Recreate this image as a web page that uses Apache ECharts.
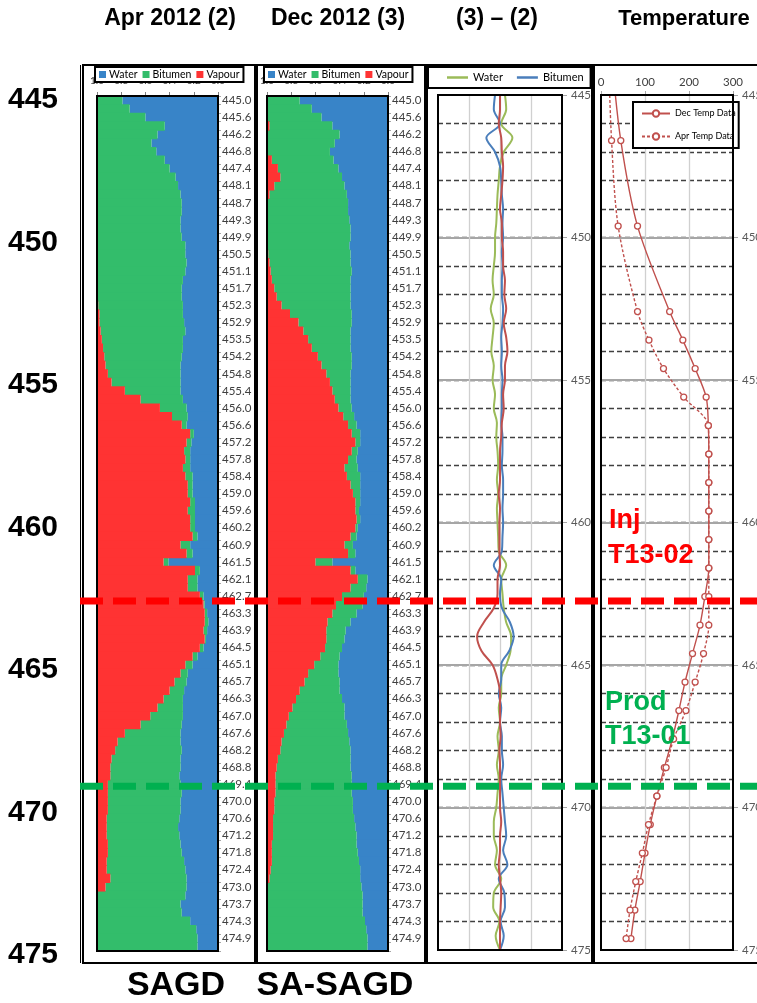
<!DOCTYPE html>
<html>
<head>
<meta charset="utf-8">
<script src="https://cdn.jsdelivr.net/npm/echarts@6/dist/echarts.min.js"></script>
<style>
  html, body { margin: 0; padding: 0; background: #ffffff; }
  #chart { width: 757px; height: 1003px; }
</style>
</head>
<body>
<div id="chart"></div>
<script>
// ---- depth rows of the saturation logs (labelled every second row) ----
const depthLabels = ['445.0','445.6','446.2','446.8','447.4','448.1','448.7','449.3','449.9','450.5',
  '451.1','451.7','452.3','452.9','453.5','454.2','454.8','455.4','456.0','456.6',
  '457.2','457.8','458.4','459.0','459.6','460.2','460.9','461.5','462.1','462.7',
  '463.3','463.9','464.5','465.1','465.7','466.3','467.0','467.6','468.2','468.8',
  '469.4','470.0','470.6','471.2','471.8','472.4','473.0','473.7','474.3','474.9'];

// ---- Apr 2012 saturations (%), top to bottom ----
const aprWater = [79,73,60,44,50,55,51,44,40,35, 33,31,30,30,31,31,30,27,27,26,
  27,29,30,30,29,29,28,27,29,29, 30,31,31,31,31,29,26,25,26,
  20,22,23,23,23,21,21,21,19,19,19,19,17,23,21,
  41,15,17,17,12,11,9,8,9,10, 12,17,21,25,26,28,29,29,29,30,
  31,31,30,31,31,32,31,30,31,31, 32,33,32,31,30,28,27,26,26, 27,31,30,23,18,17,17];
const aprBitumen = [21,27,40,56,50,45,49,56,60,65, 67,69,70,70,69,69,70,73,73,74,
  73,71,70,70,70,69,70,70,67,66, 64,62,60,57,46,35,22,13,4,
  3,4,5,4,6,6,4,4,4,6,4,4,4,8,5,
  4,4,8,8,3,1,2,3,3,1, 3,4,6,6,10,12,16,21,27,34,
  46,52,55,57,58,57,60,61,60,60, 60,59,60,60,61,64,65,63,67, 73,69,70,77,82,83,83];
const aprVapour = [0,0,0,0,0,0,0,0,0,0, 0,0,0,0,0,0,0,0,0,0,
  0,0,0,0,1,2,2,3,4,5, 6,7,9,12,23,36,52,62,70,
  77,74,72,73,71,73,75,75,77,75,77,77,79,69,74,
  55,81,75,75,85,88,89,89,88,89, 85,79,73,69,64,60,55,50,44,36,
  23,17,15,12,11,11,9,9,9,9, 8,8,8,9,9,8,8,11,7, 0,0,0,0,0,0,0];

// ---- Dec 2012 saturations (%), top to bottom ----
const decWater = [73,63,55,46,40,44,48,45,41,38, 36,34,33,33,32,31,31,32,31,31,
  30,31,31,31,31,30,30,31,31,31, 30,30,31,31,31,31,30,28,26,23,
  23,25,26,25,23,23,23,23,24,23, 25,26,29,27,46,27,17,18,20,21,
  26,31,35,36,38,40,41,41,40,40, 38,36,36,34,33,32,31,31,31,30,
  30,30,29,29,28,27,26,26,25,24, 23,23,22,21,21,21,19,18,17,17];
const decBitumen = [27,37,45,52,60,56,52,51,50,51, 58,64,67,67,68,69,69,68,68,67,
  67,65,63,61,57,51,44,39,35,32, 28,25,20,17,15,13,11,9,7,7,
  4,5,7,11,11,8,6,4,3,3, 2,5,7,6,14,4,8,13,18,22,
  20,19,16,15,14,16,20,25,29,33, 38,43,46,50,53,56,58,60,61,63,
  63,63,65,65,67,68,69,70,71,72, 74,75,78,79,79,79,81,82,83,83];
const decVapour = [0,0,0,2,0,0,0,4,9,11, 6,2,0,0,0,0,0,0,1,2,
  3,4,6,8,12,19,26,30,34,37, 42,45,49,52,54,56,59,63,67,70,
  73,70,67,64,66,69,71,73,73,74, 73,69,64,67,40,69,75,69,62,57,
  54,50,49,49,48,44,39,34,31,27, 24,21,18,16,14,12,11,9,8,7,
  7,7,6,6,5,5,5,4,4,4, 3,2,0,0,0,0,0,0,0,0];

// ---- saturation change (Dec - Apr), fraction ----
const diffDepths = [445,445.5,446,446.5,447,447.5,448,448.5,449,449.5,450,450.5,451,451.5,452,452.5,
  453,453.5,454,454.5,455,455.5,456,456.5,457,457.5,458,458.5,459,459.5,460,460.5,461,461.5,
  462,462.5,463,463.5,464,464.5,465,465.5,466,466.5,467,467.5,468,468.5,469,469.5,470,470.5,
  471,471.5,472,472.5,473,473.5,474,474.5,475];
const diffWater = [0.08,0.10,0.02,0.20,0.06,0.00,-0.02,-0.04,-0.05,-0.06,-0.08,-0.08,-0.10,-0.12,-0.10,-0.15,
  -0.10,-0.12,-0.14,-0.10,-0.12,-0.08,-0.10,-0.05,-0.06,-0.04,-0.03,-0.05,-0.03,-0.05,-0.04,-0.03,-0.02,0.10,
  0.02,0.04,0.06,0.10,0.18,0.17,0.10,0.02,0.02,-0.02,0.00,-0.04,-0.02,-0.05,-0.02,-0.04,-0.06,-0.10,
  -0.10,-0.05,-0.08,0.02,-0.10,-0.11,-0.01,-0.07,0.00];
const diffBitumen = [-0.08,-0.10,0.00,-0.22,-0.08,0.00,0.02,0.03,0.05,0.04,0.05,0.03,0.04,0.03,0.03,0.05,
  0.04,0.02,0.03,0.02,0.04,0.03,0.03,0.02,0.04,0.04,0.03,0.05,0.05,0.04,0.05,0.04,0.03,-0.10,
  0.02,0.00,0.03,0.16,0.22,0.15,0.02,0.02,-0.02,0.02,0.00,0.03,0.03,0.05,0.02,0.04,0.06,0.08,
  0.10,0.05,0.12,-0.02,0.07,0.08,0.01,0.06,0.00];
const diffVapour = [0.00,0.00,-0.02,0.02,0.03,0.05,0.04,0.02,0.00,0.03,0.03,0.05,0.05,0.08,0.07,0.10,
  0.06,0.10,0.12,0.08,0.08,0.05,0.06,0.03,0.02,0.00,0.00,0.00,-0.02,0.00,-0.01,-0.01,-0.01,0.00,
  -0.04,-0.04,-0.10,-0.26,-0.37,-0.30,-0.12,-0.04,0.00,0.00,0.00,0.01,-0.01,0.00,0.00,0.00,0.00,0.02,
  0.00,0.00,-0.02,0.00,0.02,0.01,0.00,0.00,0.00];

// ---- observation-well temperatures (deg C) ----
const tempDepths = [443.6,446.6,449.6,452.6,453.6,454.6,455.6,456.6,457.6,458.6,459.6,460.6,461.6,
  462.6,463.6,464.6,465.6,466.6,467.6,468.6,469.6,470.6,471.6,472.6,473.6,474.6];
const decTemp = [24,45,83,156,186,214,239,244,245,245,245,245,245,236,225,208,191,177,162,144,127,112,100,89,77,68];
const aprTemp = [17,24,39,83,109,142,188,244,245,245,245,245,245,245,245,233,214,193,165,148,127,108,94,79,66,57];

// ---- well completion depths ----
const injDepth = 462.75;
const prodDepth = 469.25;

const C = {
  water: '#3884C8', bitumen: '#33BD6B', vapour: '#FF3333',
  dWater: '#9BBB59', dBitumen: '#4A7EBB', dVapour: '#C0504D', temp: '#C0504D',
  inj: '#FF0000', prod: '#00B050'
};
const SANS = 'Lato, "Liberation Sans", Arial, sans-serif';
const BOLD = '"Liberation Sans", Arial, sans-serif';

// two rows per labelled depth; only the labelled rows show text
const rowCategories = [];
depthLabels.forEach(d => { rowCategories.push(d); rowCategories.push(d + ' '); });

const chart = echarts.init(document.getElementById('chart'), null, { renderer: 'canvas' });

const grids = [
  { left: 97, top: 96, width: 121, height: 855 },
  { left: 267, top: 96, width: 121, height: 855 },
  { left: 438, top: 95, width: 124, height: 855 },
  { left: 601, top: 95, width: 132, height: 855 },
  // carrier for the large depth scale on the far left
  { left: 438, top: 100, width: 124, height: 855 }
].map(g => Object.assign({ outerBoundsMode: 'none', containLabel: false, show: false }, g));

function fractionAxis(gridIndex) {
  return {
    gridIndex, type: 'value', min: 0, max: 100, interval: 20, inverse: true, position: 'top',
    axisLine: { show: false },
    axisTick: { show: true, length: 4, lineStyle: { color: '#7f7f7f' } },
    axisLabel: { fontFamily: SANS, fontSize: 10, color: '#404040', margin: 10,
      showMinLabel: true, showMaxLabel: true, formatter: v => (v / 100).toFixed(1) },
    splitLine: { show: false }
  };
}
function rowAxis(gridIndex) {
  return {
    gridIndex, type: 'category', data: rowCategories, inverse: true, position: 'right',
    axisLine: { show: false },
    axisTick: { show: true, interval: 0, length: 3, lineStyle: { color: '#a6a6a6' } },
    axisLabel: { interval: 1, fontFamily: SANS, fontSize: 11.5, color: '#404040', margin: 4 }
  };
}
function metreAxis(gridIndex) {
  return {
    gridIndex, type: 'value', min: 445, max: 475, interval: 1, inverse: true, position: 'right',
    axisLine: { show: false }, axisTick: { show: false }, axisLabel: { show: false },
    splitLine: { show: true, showMinLine: false, showMaxLine: false,
      lineStyle: { color: '#404040', width: 1.3, type: [5, 3] } }
  };
}
function fiveMetreAxis(gridIndex) {
  return {
    gridIndex, type: 'value', min: 445, max: 475, interval: 5, inverse: true, position: 'right',
    axisLine: { show: false },
    axisTick: { show: true, length: 5, lineStyle: { color: '#a6a6a6' } },
    axisLabel: { fontFamily: SANS, fontSize: 11.5, color: '#595959', margin: 9 },
    splitLine: { show: true, showMinLine: false, showMaxLine: false,
      lineStyle: { color: '#a6a6a6', width: 2 } }
  };
}

// stacked phase bars; slightly wider than a row so neighbouring rows close up
function phaseBars(idx, stack, water, bitumen, vapour) {
  const mk = (name, data, color) => ({
    type: 'bar', name, data, stack, xAxisIndex: idx, yAxisIndex: idx,
    barWidth: 9.4, silent: true,
    itemStyle: { color, borderWidth: 0 }
  });
  return [mk('Water', water, C.water), mk('Bitumen', bitumen, C.bitumen), mk('Vapour', vapour, C.vapour)];
}
function diffLine(name, values, color) {
  return {
    type: 'line', name, xAxisIndex: 2, yAxisIndex: 2, smooth: 0.35, symbol: 'none', silent: true,
    data: diffDepths.map((d, i) => [values[i], d]),
    lineStyle: { color, width: 2 }, itemStyle: { color }
  };
}
function tempLine(name, values, dash) {
  return {
    type: 'line', name, xAxisIndex: 3, yAxisIndex: 5, smooth: 0.3, silent: true,
    symbol: 'circle', symbolSize: 6, showSymbol: true, clip: true,
    data: tempDepths.map((d, i) => [values[i], d]),
    lineStyle: { color: C.temp, width: 1.4, type: dash },
    itemStyle: { color: '#ffffff', borderColor: C.temp, borderWidth: 1.3 }
  };
}

const phaseLegend = left => ({
  left, top: 67, orient: 'horizontal', data: ['Water', 'Bitumen', 'Vapour'], icon: 'rect',
  itemWidth: 7, itemHeight: 7, itemGap: 5, padding: [2, 4, 2, 4], selectedMode: false,
  backgroundColor: '#ffffff', borderColor: '#000000', borderWidth: 2,
  textStyle: { fontFamily: SANS, fontSize: 10.5, color: '#000000', padding: [0, 0, 0, -2] }
});

const frame = (x, w) => ({ type: 'rect', z: 50, silent: true,
  shape: { x, y: 65, width: w, height: 898 }, style: { fill: 'none', stroke: '#000', lineWidth: 2 } });
const plotBox = g => ({ type: 'rect', z: 40, silent: true,
  shape: { x: g.left, y: g.top, width: g.width, height: g.height },
  style: { fill: 'none', stroke: '#000', lineWidth: 2 } });
const label = (text, x, y, size, color, align) => ({ type: 'text', z: 60, silent: true, x, y,
  style: { text, fill: color, font: `bold ${size}px ${BOLD}`, align: align || 'center', verticalAlign: 'middle' } });

const option = {
  backgroundColor: '#ffffff',
  animation: false,
  grid: grids,
  xAxis: [
    fractionAxis(0), fractionAxis(1),
    { gridIndex: 2, type: 'value', min: -1, max: 1, interval: 0.5,
      axisLine: { show: false }, axisTick: { show: false }, axisLabel: { show: false },
      splitLine: { show: true, showMinLine: false, showMaxLine: false, lineStyle: { color: '#d0d0d0', width: 1.3 } } },
    { gridIndex: 3, type: 'value', min: 0, max: 300, interval: 100, position: 'top',
      axisLine: { show: false },
      axisTick: { show: true, length: 4, lineStyle: { color: '#a6a6a6' } },
      axisLabel: { fontFamily: SANS, fontSize: 11.5, color: '#404040', margin: 7, showMinLabel: true, showMaxLabel: true, hideOverlap: false },
      splitLine: { show: true, showMinLine: false, showMaxLine: false, lineStyle: { color: '#d0d0d0', width: 1.3 } } },
    { gridIndex: 4, type: 'value', min: 0, max: 1, show: false }
  ],
  yAxis: [
    rowAxis(0), rowAxis(1),
    metreAxis(2), fiveMetreAxis(2),
    metreAxis(3), fiveMetreAxis(3),
    { gridIndex: 4, type: 'value', min: 445, max: 475, interval: 5, inverse: true, position: 'left', offset: 380,
      axisLine: { show: false }, axisTick: { show: false }, splitLine: { show: false },
      axisLabel: { fontFamily: BOLD, fontWeight: 'bold', fontSize: 30, color: '#000', margin: 0 } }
  ],
  legend: [
    phaseLegend(95), phaseLegend(264),
    { left: 428, top: 67, selectedMode: false,
      data: [{ name: 'dWater', icon: 'rect' }, { name: 'dBitumen', icon: 'rect' }],
      formatter: n => (n === 'dWater' ? 'Water' : 'Bitumen'),
      itemWidth: 21, itemHeight: 2.5, itemGap: 14, padding: [5, 7, 5, 19],
      backgroundColor: '#ffffff', borderColor: '#000000', borderWidth: 2,
      textStyle: { fontFamily: SANS, fontSize: 11, color: '#000000' } },
    { left: 633, top: 102, orient: 'vertical', data: ['Dec Temp Data', 'Apr Temp Data'], selectedMode: false,
      itemWidth: 28, itemHeight: 8, itemGap: 14, padding: [7, 3, 7, 8],
      backgroundColor: '#ffffff', borderColor: '#000000', borderWidth: 2,
      textStyle: { fontFamily: SANS, fontSize: 9, color: '#000000' } }
  ],
  series: [
    ...phaseBars(0, 'apr', aprWater, aprBitumen, aprVapour),
    ...phaseBars(1, 'dec', decWater, decBitumen, decVapour),
    diffLine('dWater', diffWater, C.dWater),
    diffLine('dBitumen', diffBitumen, C.dBitumen),
    diffLine('dVapour', diffVapour, C.dVapour),
    tempLine('Dec Temp Data', decTemp, 'solid'),
    tempLine('Apr Temp Data', aprTemp, [3, 2])
  ],
  graphic: [
    frame(83, 172), frame(257, 168), frame(427, 165), frame(594, 170),
    { type: 'line', z: 50, silent: true, shape: { x1: 80.5, y1: 65, x2: 80.5, y2: 963 }, style: { stroke: '#000', lineWidth: 1 } },
    ...grids.slice(0, 4).map(plotBox),
    label('Apr 2012 (2)', 170, 19, 23, '#000'),
    label('Dec 2012 (3)', 338, 19, 23, '#000'),
    label('(3) \u2013 (2)', 497, 19, 23, '#000'),
    label('Temperature', 684, 19, 22, '#000'),
    label('SAGD', 176, 986, 34, '#000'),
    label('SA-SAGD', 335, 986, 34, '#000'),
    label('Inj', 609, 521, 27, C.inj, 'left'),
    label('T13-02', 608, 556, 27, C.inj, 'left'),
    label('Prod', 605, 703, 27, C.prod, 'left'),
    label('T13-01', 605, 737, 27, C.prod, 'left')
  ]
};
chart.setOption(option);

// well marker lines across all panels, placed through the depth scale
const wellLine = (depth, color) => {
  const y = chart.convertToPixel({ xAxisIndex: 2, yAxisIndex: 2 }, [0, depth])[1];
  return { type: 'line', z: 70, silent: true,
    shape: { x1: 80, y1: y, x2: 757, y2: y },
    style: { stroke: color, lineWidth: 7, lineDash: [23, 10] } };
};
chart.setOption({ graphic: option.graphic.concat([wellLine(injDepth, C.inj), wellLine(prodDepth, C.prod)]) });
</script>
</body>
</html>
